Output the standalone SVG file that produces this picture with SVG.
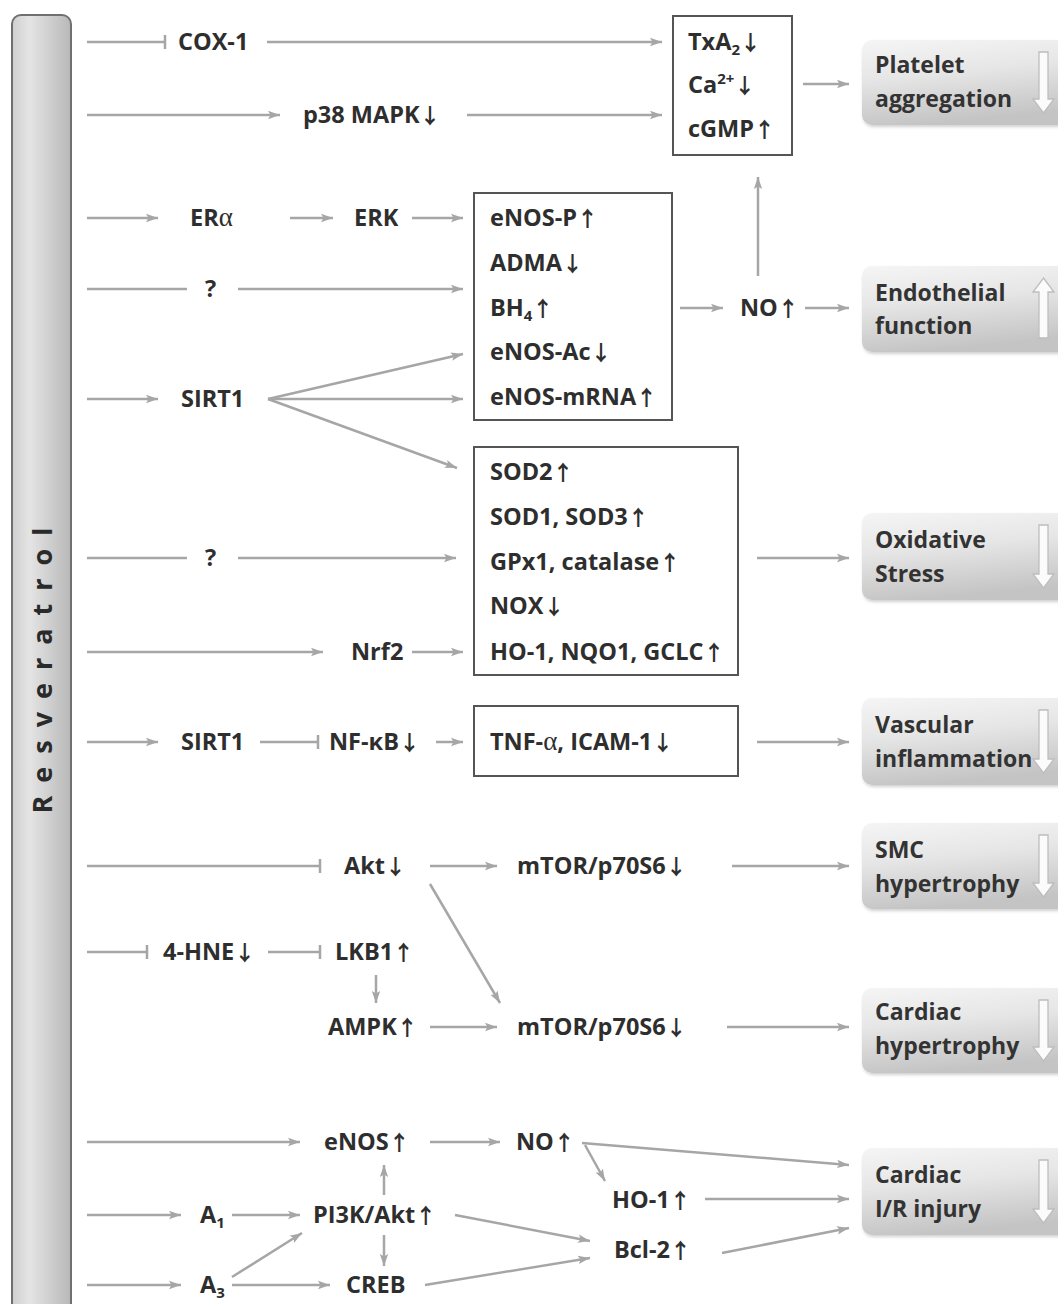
<svg xmlns="http://www.w3.org/2000/svg" width="1058" height="1304" viewBox="0 0 1058 1304">
<defs>
<style>
.t{font-family:"Open Sans","DejaVu Sans",sans-serif;font-weight:700;font-size:23.5px;fill:#2e2e2e}
.r{font-family:"Open Sans","DejaVu Sans",sans-serif;font-weight:700;font-size:23px;fill:#333}
.a{font-family:"Noto Sans CJK SC","DejaVu Sans",sans-serif;font-weight:700;font-size:21px}
.g{font-family:"Liberation Serif",serif;font-weight:400;font-size:27px}
.sub{font-size:15px}
.c{fill:none;stroke:#a6a6a6;stroke-width:2.5}
.box{fill:#fff;stroke:#555;stroke-width:2}
.res{fill:url(#rg);filter:url(#sh)}
.ha{fill:#fbfbfb;stroke:#bdbdbd;stroke-width:1.3}
.rv{font-family:"Open Sans","DejaVu Sans",sans-serif;font-weight:700;font-size:27px;letter-spacing:13px;fill:#2a2a2a}
</style>
<linearGradient id="rg" x1="0" y1="0" x2="0.25" y2="1">
<stop offset="0" stop-color="#f5f5f5"/>
<stop offset="0.45" stop-color="#e6e6e6"/>
<stop offset="1" stop-color="#c4c4c4"/>
</linearGradient>
<linearGradient id="bg" x1="0" y1="0" x2="1" y2="0">
<stop offset="0" stop-color="#d0d0d0"/>
<stop offset="0.3" stop-color="#e4e4e4"/>
<stop offset="1" stop-color="#b8b8b8"/>
</linearGradient>
<filter id="sh" x="-5%" y="-10%" width="115%" height="130%">
<feDropShadow dx="1" dy="2" stdDeviation="1.5" flood-color="#000" flood-opacity="0.18"/>
</filter>
<marker id="ar" markerUnits="userSpaceOnUse" markerWidth="13" markerHeight="10" refX="12" refY="5" orient="auto" viewBox="0 0 13 10">
<path d="M0,0.8 L12,5 L0,9.2 L2.5,5 Z" fill="#a6a6a6"/>
</marker>
<marker id="tee" markerUnits="userSpaceOnUse" markerWidth="4" markerHeight="14" refX="2" refY="7" orient="auto" viewBox="0 0 4 14">
<path d="M2,0 L2,14" stroke="#a6a6a6" stroke-width="2.5"/>
</marker>
</defs>
<rect width="1058" height="1304" fill="#fff"/>

<g id="resveratrol">
<rect x="12" y="15" width="59" height="1320" rx="9" fill="url(#bg)" stroke="#707070" stroke-width="2"/>
<text class="rv" transform="translate(52,664) rotate(-90)" text-anchor="middle">Resveratrol</text>
</g>

<g id="connectors">
<path class="c" d="M87,42 H165" marker-end="url(#tee)"/>
<path class="c" d="M267,42 H662" marker-end="url(#ar)"/>
<path class="c" d="M87,115 H280" marker-end="url(#ar)"/>
<path class="c" d="M467,115 H662" marker-end="url(#ar)"/>
<path class="c" d="M803,84 H849" marker-end="url(#ar)"/>
<path class="c" d="M87,218 H158" marker-end="url(#ar)"/>
<path class="c" d="M290,218 H333" marker-end="url(#ar)"/>
<path class="c" d="M412,218 H463" marker-end="url(#ar)"/>
<path class="c" d="M87,289 H187"/>
<path class="c" d="M238,289 H463" marker-end="url(#ar)"/>
<path class="c" d="M87,399 H158" marker-end="url(#ar)"/>
<path class="c" d="M268,399 L463,354" marker-end="url(#ar)"/>
<path class="c" d="M268,399 H463" marker-end="url(#ar)"/>
<path class="c" d="M268,399 L457,468" marker-end="url(#ar)"/>
<path class="c" d="M680,308 H723" marker-end="url(#ar)"/>
<path class="c" d="M805,308 H849" marker-end="url(#ar)"/>
<path class="c" d="M758,276 V177" marker-end="url(#ar)"/>
<path class="c" d="M87,558 H187"/>
<path class="c" d="M238,558 H456" marker-end="url(#ar)"/>
<path class="c" d="M87,652 H323" marker-end="url(#ar)"/>
<path class="c" d="M412,652 H463" marker-end="url(#ar)"/>
<path class="c" d="M757,558 H849" marker-end="url(#ar)"/>
<path class="c" d="M87,742 H158" marker-end="url(#ar)"/>
<path class="c" d="M260,742 H318" marker-end="url(#tee)"/>
<path class="c" d="M436,742 H463" marker-end="url(#ar)"/>
<path class="c" d="M757,742 H849" marker-end="url(#ar)"/>
<path class="c" d="M87,866 H320" marker-end="url(#tee)"/>
<path class="c" d="M430,866 H497" marker-end="url(#ar)"/>
<path class="c" d="M732,866 H849" marker-end="url(#ar)"/>
<path class="c" d="M430,884 L500,1003" marker-end="url(#ar)"/>
<path class="c" d="M87,952 H147" marker-end="url(#tee)"/>
<path class="c" d="M268,952 H320" marker-end="url(#tee)"/>
<path class="c" d="M376,975 V1003" marker-end="url(#ar)"/>
<path class="c" d="M430,1027 H497" marker-end="url(#ar)"/>
<path class="c" d="M727,1027 H849" marker-end="url(#ar)"/>
<path class="c" d="M87,1142 H300" marker-end="url(#ar)"/>
<path class="c" d="M430,1142 H500" marker-end="url(#ar)"/>
<path class="c" d="M582,1143 L849,1165" marker-end="url(#ar)"/>
<path class="c" d="M585,1145 L605,1181" marker-end="url(#ar)"/>
<path class="c" d="M705,1199 H849" marker-end="url(#ar)"/>
<path class="c" d="M722,1253 L849,1228" marker-end="url(#ar)"/>
<path class="c" d="M87,1215 H181" marker-end="url(#ar)"/>
<path class="c" d="M232,1215 H300" marker-end="url(#ar)"/>
<path class="c" d="M455,1215 L590,1241" marker-end="url(#ar)"/>
<path class="c" d="M384,1195 V1165" marker-end="url(#ar)"/>
<path class="c" d="M384,1235 V1266" marker-end="url(#ar)"/>
<path class="c" d="M87,1285 H181" marker-end="url(#ar)"/>
<path class="c" d="M232,1285 H330" marker-end="url(#ar)"/>
<path class="c" d="M232,1277 L302,1233" marker-end="url(#ar)"/>
<path class="c" d="M425,1285 L590,1258" marker-end="url(#ar)"/>
</g>

<g id="cox1"><text class="t" x="178" y="50">COX-1</text></g>
<g id="p38"><text class="t" x="303" y="123">p38 MAPK<tspan class="a">↓</tspan></text></g>
<g id="box-platelet-mediators">
<rect class="box" x="673" y="16" width="119" height="139"/>
<text class="t" x="688" y="50">TxA<tspan class="sub" dy="5">2</tspan><tspan class="a" dy="-5">↓</tspan></text>
<text class="t" x="688" y="93">Ca<tspan class="sub" dy="-9">2+</tspan><tspan class="a" dy="9">↓</tspan></text>
<text class="t" x="688" y="137">cGMP<tspan class="a">↑</tspan></text>
</g>
<g id="platelet">
<rect class="res" x="862" y="40" width="220" height="85" rx="10"/>
<path class="ha" d="M1039,52 H1048 V99 H1054 L1043.5,113 L1033,99 H1039 Z"/>
<text class="r" x="875" y="73">Platelet</text>
<text class="r" x="875" y="107">aggregation</text>
</g>

<g id="era"><text class="t" x="190" y="226">ER<tspan class="g">α</tspan></text></g>
<g id="erk"><text class="t" x="354" y="226">ERK</text></g>
<g id="q1"><text class="t" x="205" y="297">?</text></g>
<g id="sirt1a"><text class="t" x="181" y="407">SIRT1</text></g>
<g id="box-enos">
<rect class="box" x="474" y="193" width="198" height="227"/>
<text class="t" x="490" y="226">eNOS-P<tspan class="a">↑</tspan></text>
<text class="t" x="490" y="271">ADMA<tspan class="a">↓</tspan></text>
<text class="t" x="490" y="316">BH<tspan class="sub" dy="5">4</tspan><tspan class="a" dy="-5">↑</tspan></text>
<text class="t" x="490" y="360">eNOS-Ac<tspan class="a">↓</tspan></text>
<text class="t" x="490" y="405">eNOS-mRNA<tspan class="a">↑</tspan></text>
</g>
<g id="no1"><text class="t" x="740" y="316">NO<tspan class="a">↑</tspan></text></g>
<g id="endothelial">
<rect class="res" x="862" y="266" width="220" height="86" rx="10"/>
<path class="ha" d="M1043.5,278 L1054,292 H1048 V338 H1039 V292 H1033 Z"/>
<text class="r" x="875" y="301">Endothelial</text>
<text class="r" x="875" y="334">function</text>
</g>

<g id="box-antiox">
<rect class="box" x="474" y="447" width="264" height="228"/>
<text class="t" x="490" y="480">SOD2<tspan class="a">↑</tspan></text>
<text class="t" x="490" y="525">SOD1, SOD3<tspan class="a">↑</tspan></text>
<text class="t" x="490" y="570">GPx1, catalase<tspan class="a">↑</tspan></text>
<text class="t" x="490" y="614">NOX<tspan class="a">↓</tspan></text>
<text class="t" x="490" y="660">HO-1, NQO1, GCLC<tspan class="a">↑</tspan></text>
</g>
<g id="q2"><text class="t" x="205" y="566">?</text></g>
<g id="nrf2"><text class="t" x="351" y="660">Nrf2</text></g>
<g id="oxidative">
<rect class="res" x="862" y="513" width="220" height="87" rx="10"/>
<path class="ha" d="M1039,525 H1048 V574 H1054 L1043.5,588 L1033,574 H1039 Z"/>
<text class="r" x="875" y="548">Oxidative</text>
<text class="r" x="875" y="582">Stress</text>
</g>

<g id="sirt1b"><text class="t" x="181" y="750">SIRT1</text></g>
<g id="nfkb"><text class="t" x="329" y="750">NF-κB<tspan class="a">↓</tspan></text></g>
<g id="box-tnf">
<rect class="box" x="474" y="706" width="264" height="70"/>
<text class="t" x="490" y="750">TNF-<tspan class="g">α</tspan>, ICAM-1<tspan class="a">↓</tspan></text>
</g>
<g id="vascular">
<rect class="res" x="862" y="698" width="220" height="87" rx="10"/>
<path class="ha" d="M1039,710 H1048 V759 H1054 L1043.5,773 L1033,759 H1039 Z"/>
<text class="r" x="875" y="733">Vascular</text>
<text class="r" x="875" y="767">inflammation</text>
</g>

<g id="akt"><text class="t" x="344" y="874">Akt<tspan class="a">↓</tspan></text></g>
<g id="mtor1"><text class="t" x="517" y="874">mTOR/p70S6<tspan class="a">↓</tspan></text></g>
<g id="smc">
<rect class="res" x="862" y="823" width="220" height="86" rx="10"/>
<path class="ha" d="M1039,835 H1048 V883 H1054 L1043.5,897 L1033,883 H1039 Z"/>
<text class="r" x="875" y="858">SMC</text>
<text class="r" x="875" y="892">hypertrophy</text>
</g>
<g id="hne"><text class="t" x="163" y="960">4-HNE<tspan class="a">↓</tspan></text></g>
<g id="lkb1"><text class="t" x="335" y="960">LKB1<tspan class="a">↑</tspan></text></g>
<g id="ampk"><text class="t" x="328" y="1035">AMPK<tspan class="a">↑</tspan></text></g>
<g id="mtor2"><text class="t" x="517" y="1035">mTOR/p70S6<tspan class="a">↓</tspan></text></g>
<g id="cardiac-hyp">
<rect class="res" x="862" y="988" width="220" height="85" rx="10"/>
<path class="ha" d="M1039,1000 H1048 V1047 H1054 L1043.5,1061 L1033,1047 H1039 Z"/>
<text class="r" x="875" y="1020">Cardiac</text>
<text class="r" x="875" y="1054">hypertrophy</text>
</g>

<g id="enos"><text class="t" x="324" y="1150">eNOS<tspan class="a">↑</tspan></text></g>
<g id="no2"><text class="t" x="516" y="1150">NO<tspan class="a">↑</tspan></text></g>
<g id="ho1"><text class="t" x="612" y="1208">HO-1<tspan class="a">↑</tspan></text></g>
<g id="bcl2"><text class="t" x="614" y="1258">Bcl-2<tspan class="a">↑</tspan></text></g>
<g id="a1"><text class="t" x="200" y="1223">A<tspan class="sub" dy="5">1</tspan></text></g>
<g id="pi3k"><text class="t" x="313" y="1223">PI3K/Akt<tspan class="a">↑</tspan></text></g>
<g id="a3"><text class="t" x="200" y="1293">A<tspan class="sub" dy="5">3</tspan></text></g>
<g id="creb"><text class="t" x="346" y="1293">CREB</text></g>
<g id="cardiac-ir">
<rect class="res" x="862" y="1148" width="220" height="87" rx="10"/>
<path class="ha" d="M1039,1160 H1048 V1209 H1054 L1043.5,1223 L1033,1209 H1039 Z"/>
<text class="r" x="875" y="1183">Cardiac</text>
<text class="r" x="875" y="1217">I/R injury</text>
</g>
</svg>
